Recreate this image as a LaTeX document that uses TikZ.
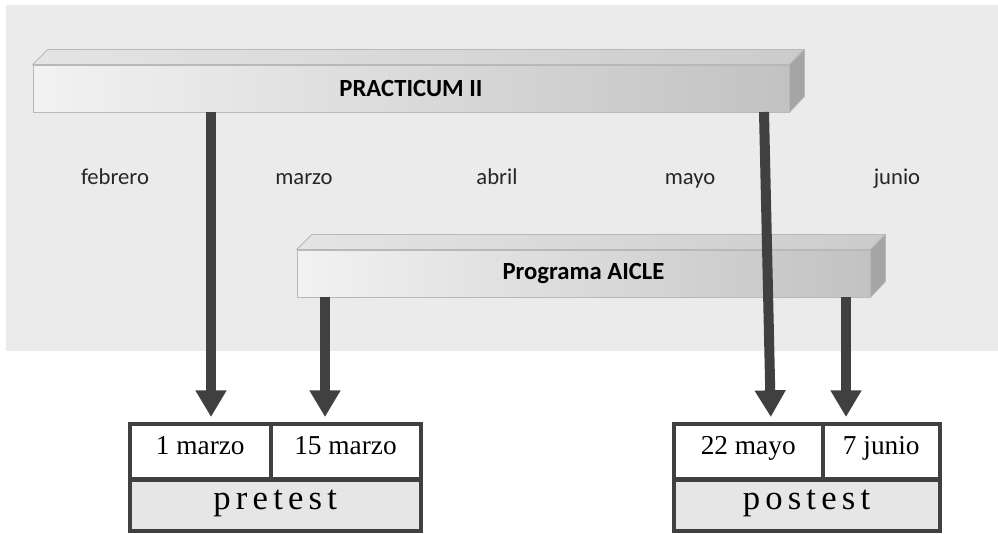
\documentclass[tikz,border=0pt]{standalone}
\usepackage{fontspec}
\setmainfont{Liberation Serif}
\newfontfamily\calib{Carlito}
\newfontfamily\spaced[LetterSpace=15]{Liberation Serif}
\usetikzlibrary{arrows.meta}

\definecolor{bggray}{HTML}{EBEBEB}
\definecolor{barlight}{HTML}{F2F2F2}
\definecolor{bardark}{HTML}{C2C2C2}
\definecolor{toplight}{HTML}{E4E4E4}
\definecolor{topdark}{HTML}{CCCCCC}
\definecolor{sidegray}{HTML}{A5A5A5}
\definecolor{edgegray}{HTML}{B8B8B8}
\definecolor{dark}{HTML}{404040}
\definecolor{cellgray}{HTML}{E6E6E6}
\definecolor{monthgray}{HTML}{262626}

\begin{document}
\begin{tikzpicture}[x=0.75pt, y=-0.75pt,
  bar/.style={draw=edgegray, line width=0.6pt, left color=barlight, right color=bardark,
    inner sep=0pt, minimum height=35.25pt, font=\calib\bfseries\fontsize{18.5}{20}\selectfont},
  barside/.style={draw=edgegray, line width=0.6pt, fill=sidegray},
  bartop/.style={draw=edgegray, line width=0.6pt, left color=toplight, right color=topdark},
  month/.style={anchor=base, text=monthgray, font=\calib\fontsize{17}{20}\selectfont},
  cell/.style={draw=dark, line width=3pt, fill=white, inner sep=0pt, minimum height=41.6pt,
    text height=0.68em, text depth=0.2em, font=\fontsize{20.5}{24}\selectfont},
  testcell/.style={cell, fill=cellgray, minimum height=38.6pt,
    text height=0.68em, text depth=0.1em, font=\spaced\fontsize{26}{30}\selectfont},
  arr/.style={draw=dark, line width=7.5pt, -{Triangle[width=22pt,length=20pt]}, shorten >=3.75pt}]
\useasboundingbox (0,0) rectangle (998,534);
\fill[bggray] (6,5) rectangle (998,351);

% bars
\node[bar, minimum width=567pt] (practicum) at (411,88.5) {PRACTICUM II};
\draw[bartop]  (practicum.north west) -- ++(15,-15) -- ++(756,0) -- (practicum.north east) -- cycle;
\draw[barside] (practicum.north east) -- ++(15,-15) -- ++(0,47) -- (practicum.south east) -- cycle;

\node[bar, minimum width=429.75pt] (aicle) at (583.5,273.5) {Programa AICLE};
\draw[bartop]  (aicle.north west) -- ++(15,-15) -- ++(573,0) -- (aicle.north east) -- cycle;
\draw[barside] (aicle.north east) -- ++(15,-15) -- ++(0,47) -- (aicle.south east) -- cycle;

% months
\node[month] (feb) at (115,185) {febrero};
\node[month] (mar) at (304,185) {marzo};
\node[month] (abr) at (497,185) {abril};
\node[month] (may) at (690,185) {mayo};
\node[month] (jun) at (897,185) {junio};

% tests
\node[cell, minimum width=105.4pt] (m1)  at (200.25,451.75) {1 marzo};
\node[cell, minimum width=112.5pt] (m15) at (345.5,451.75)  {15 marzo};
\node[testcell, minimum width=217.9pt] (pre) at (275.25,505.25) {pretest};

\node[cell, minimum width=112.1pt] (d22) at (748.25,451.75) {22 mayo};
\node[cell, minimum width=87.4pt]  (j7)  at (881.25,451.75) {7 junio};
\node[testcell, minimum width=199.5pt] (post) at (806.5,505.25) {postest};

% arrows
\coordinate (p1) at (211,112);
\coordinate (p2) at (764,112);
\coordinate (a1) at (325,297);
\coordinate (a2) at (846,297);

\draw[arr] (p1) -- (p1 |- m1.north);
\draw[arr] (p2) -- ([xshift=17pt]d22.north);
\draw[arr] (a1) -- (a1 |- m15.north);
\draw[arr] (a2) -- (a2 |- j7.north);
\end{tikzpicture}
\end{document}
